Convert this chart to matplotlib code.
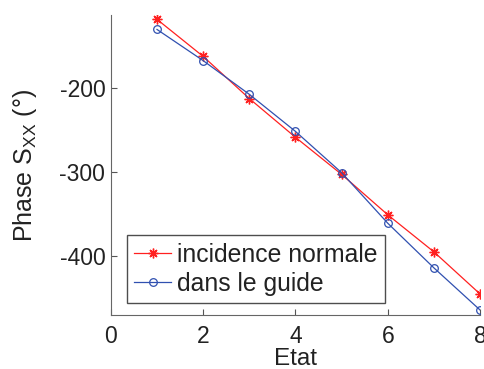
import matplotlib
matplotlib.use("Agg")
import matplotlib.pyplot as plt

etat = [1, 2, 3, 4, 5, 6, 7, 8]
incidence_normale = [-119, -163, -213, -259, -303, -351, -395, -445]
dans_le_guide = [-131, -168, -208, -252, -301, -361, -414, -464]
x_ticks = [0, 2, 4, 6, 8]
y_ticks = [-400, -300, -200]

plt.rcParams['font.family'] = ['Liberation Sans', 'DejaVu Sans']
plt.rcParams['mathtext.fontset'] = 'custom'
plt.rcParams['mathtext.rm'] = 'Liberation Sans'
plt.rcParams['mathtext.it'] = 'Liberation Sans'
plt.rcParams['axes.unicode_minus'] = False

fig = plt.figure(figsize=(4.84, 3.69), dpi=100)
ax = fig.add_axes([0.229, 0.146, 0.763, 0.813])

ax.plot(etat, incidence_normale, color='#ff2020', marker=(8, 2, 0), markersize=7,
        markeredgewidth=1.0, linewidth=0.9, label='incidence normale')
ax.plot(etat, dans_le_guide, color='#3050b0', marker='o', markersize=5.5,
        markerfacecolor='none', markeredgewidth=0.9, linewidth=0.9,
        label='dans le guide')

ax.set_xlim(0, 8)
ax.set_ylim(-470, -114)
ax.set_xticks(x_ticks)
ax.set_yticks(y_ticks)
ax.tick_params(direction='in', labelsize=16.5, length=4, width=0.8,
               colors='#555555', labelcolor='#222222')
ax.tick_params(axis='y', pad=4)
ax.tick_params(axis='x', pad=7)
ax.spines['top'].set_visible(False)
ax.spines['right'].set_visible(False)
for s in ('left', 'bottom'):
    ax.spines[s].set_color('#666666')

ax.set_xlabel('Etat', fontsize=17.5, labelpad=0, color='#222222')
ax.set_ylabel('Phase S$_{\\mathrm{XX}}$ (°)', fontsize=18, labelpad=15,
              color='#222222')

leg = ax.legend(loc='lower left', bbox_to_anchor=(0.043, 0.04), fontsize=17.8,
                frameon=True, fancybox=False, edgecolor='#222222',
                handlelength=1.5, handletextpad=0.25, borderpad=0.3,
                labelspacing=0.2, borderaxespad=0)
leg.get_frame().set_linewidth(1.0)
for t in leg.get_texts():
    t.set_color('#222222')

fig.savefig('out.png', dpi=100)
